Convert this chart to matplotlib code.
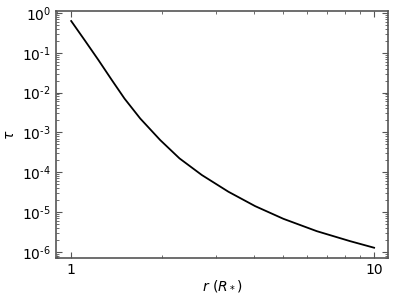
import matplotlib
matplotlib.use("Agg")
import matplotlib.pyplot as plt
from matplotlib.ticker import FixedLocator, FixedFormatter, LogLocator, NullFormatter

r_vals = [1.0, 1.112, 1.230, 1.362, 1.500, 1.690, 1.967, 2.278, 2.700,
          3.304, 4.048, 5.020, 6.47, 8.33, 10.0]
tau_vals = [0.63, 0.1995, 0.0659, 0.0207, 7.08e-3, 2.24e-3, 6.44e-4, 2.23e-4,
            8.51e-5, 3.24e-5, 1.41e-5, 6.76e-6, 3.31e-6, 1.86e-6, 1.27e-6]
xtick_vals = [1, 10]
xtick_labels = ["1", "10"]
ytick_vals = [1e0, 1e-1, 1e-2, 1e-3, 1e-4, 1e-5, 1e-6]
ytick_exps = [0, 1, 2, 3, 4, 5, 6]

ytick_labels = [r"$\mathdefault{10^{0}}$" if e == 0 else r"$\mathdefault{10^{\text{-}%d}}$" % e
                for e in ytick_exps]

fig = plt.figure(figsize=(3.99, 2.99), dpi=100)
ax = fig.add_axes([0.140, 0.137, 0.832, 0.826])
ax.plot(r_vals, tau_vals, color="black", lw=1.3)
ax.set_xscale("log")
ax.set_yscale("log")
ax.set_xlim(0.89, 11.1)
ax.set_ylim(7e-7, 1.12)
ax.xaxis.set_major_locator(FixedLocator(xtick_vals))
ax.xaxis.set_major_formatter(FixedFormatter(xtick_labels))
ax.xaxis.set_minor_locator(LogLocator(base=10, subs=range(2, 10)))
ax.xaxis.set_minor_formatter(NullFormatter())
ax.yaxis.set_major_locator(FixedLocator(ytick_vals))
ax.yaxis.set_major_formatter(FixedFormatter(ytick_labels))
ax.yaxis.set_minor_locator(LogLocator(base=10, subs=range(2, 10), numticks=20))
ax.yaxis.set_minor_formatter(NullFormatter())
ax.tick_params(which="both", direction="in", top=True, right=True, color="#555555")
ax.tick_params(which="major", length=4, labelsize=10)
ax.tick_params(which="minor", length=2)
for s in ax.spines.values():
    s.set_color("#555555")
    s.set_linewidth(1.2)
ax.set_xlabel(r"$r$ ($R_*$)", fontsize=10, labelpad=1)
ax.set_ylabel(r"$\tau$", fontsize=10)
fig.savefig("out.png", dpi=100)
